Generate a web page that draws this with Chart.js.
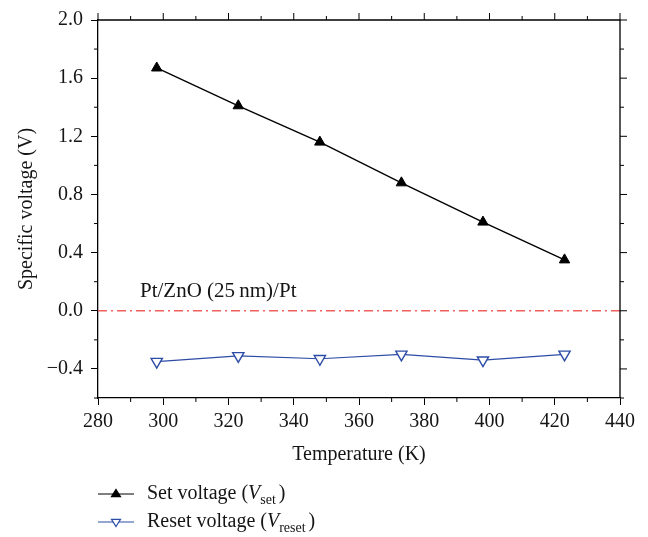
<!DOCTYPE html>
<html>
<head>
<meta charset="utf-8">
<script src="https://cdn.jsdelivr.net/npm/chart.js@4.4.1/dist/chart.umd.min.js"></script>
<style>
    html, body { margin: 0; padding: 0; background: #fff; }
    #wrap { width: 648px; height: 537px; }
</style>
</head>
<body>
<div id="wrap"><canvas id="chartVoltage" width="648" height="537"></canvas></div>
<script>
// data
const temperatures = [298, 323, 348, 373, 398, 423];
const setVoltage = [1.67, 1.41, 1.16, 0.88, 0.61, 0.35];
const resetVoltage = [-0.35, -0.31, -0.33, -0.30, -0.34, -0.30];
const xTicks = [280, 300, 320, 340, 360, 380, 400, 420, 440];
const yTicks = [-0.4, 0.0, 0.4, 0.8, 1.2, 1.6, 2.0];
const xMinor = [290, 310, 330, 350, 370, 390, 410, 430];
const yMinor = [-0.6, -0.2, 0.2, 0.6, 1.0, 1.4, 1.8];
const refLine = [280, 440];

const serif = "'Liberation Serif', 'Times New Roman', serif";
const blue = '#2d4ca6';
const txt = '#151515';

// minor ticks, ticks on top/right, y title, annotation, legend
const extras = {
    id: 'extras',
    afterDraw(chart) {
        const ctx = chart.ctx;
        const a = chart.chartArea;
        const xs = chart.scales.x, ys = chart.scales.y;
        ctx.save();
        ctx.strokeStyle = '#000';
        ctx.lineWidth = 1.3;
        ctx.beginPath();
        ctx.moveTo(a.left, a.top); ctx.lineTo(a.right, a.top); ctx.lineTo(a.right, a.bottom);
        ctx.stroke();
        ctx.lineWidth = 1;
        ctx.beginPath();
        for (const v of xTicks) {
            const px = xs.getPixelForValue(v);
            ctx.moveTo(px, a.top); ctx.lineTo(px, a.top - 7);
        }
        for (const v of xMinor) {
            const px = xs.getPixelForValue(v);
            ctx.moveTo(px, a.bottom); ctx.lineTo(px, a.bottom + 4);
            ctx.moveTo(px, a.top); ctx.lineTo(px, a.top - 4);
        }
        for (const v of yTicks) {
            const py = ys.getPixelForValue(v);
            ctx.moveTo(a.right, py); ctx.lineTo(a.right + 7, py);
        }
        for (const v of yMinor) {
            const py = ys.getPixelForValue(v);
            ctx.moveTo(a.left, py); ctx.lineTo(a.left - 4, py);
            ctx.moveTo(a.right, py); ctx.lineTo(a.right + 4, py);
        }
        ctx.stroke();

        ctx.fillStyle = txt;
        ctx.font = '20px ' + serif;
        ctx.textBaseline = 'middle';
        // y title
        ctx.save();
        ctx.translate(27, (a.top + a.bottom) / 2);
        ctx.rotate(-Math.PI / 2);
        ctx.textAlign = 'center';
        ctx.fillText('Specific voltage (V)', 0, 0);
        ctx.restore();
        // annotation
        ctx.textAlign = 'left';
        ctx.font = '21px ' + serif;
        ctx.fillText('Pt/ZnO (25\u2009nm)/Pt', 140, ys.getPixelForValue(0) - 19);

        // legend
        const items = [
            { sub: 'set', color: '#000', rot: 0, fill: '#000' },
            { sub: 'reset', color: blue, rot: 180, fill: '#fff' }
        ];
        const ly = [494, 522];
        items.forEach((it, i) => {
            const y = ly[i];
            ctx.strokeStyle = it.color;
            ctx.lineWidth = 1.2;
            ctx.beginPath();
            ctx.moveTo(98, y); ctx.lineTo(134, y);
            ctx.stroke();
            ctx.fillStyle = it.fill;
            ctx.beginPath();
            const r = 4.5;
            if (it.rot === 0) {
                ctx.moveTo(116, y - r); ctx.lineTo(116 + r, y + r * 0.6); ctx.lineTo(116 - r, y + r * 0.6);
            } else {
                ctx.moveTo(116, y + r); ctx.lineTo(116 + r, y - r * 0.6); ctx.lineTo(116 - r, y - r * 0.6);
            }
            ctx.closePath(); ctx.fill(); ctx.stroke();

            ctx.fillStyle = txt;
            let x = 147;
            ctx.font = '20px ' + serif;
            const t1 = (i === 0 ? 'Set' : 'Reset') + ' voltage (';
            ctx.fillText(t1, x, y); x += ctx.measureText(t1).width;
            ctx.font = 'italic 20px ' + serif;
            ctx.fillText('V', x, y); x += ctx.measureText('V').width;
            ctx.font = '14px ' + serif;
            ctx.fillText(it.sub, x, y + 6); x += ctx.measureText(it.sub).width + 3;
            ctx.font = '20px ' + serif;
            ctx.fillText(')', x, y);
        });
        ctx.restore();
    }
};

const config = {
    type: 'line',
    data: {
        datasets: [
            {
                label: 'Set voltage (Vset)',
                data: temperatures.map((t, i) => ({ x: t, y: setVoltage[i] })),
                borderColor: '#000',
                borderWidth: 1.4,
                pointStyle: 'triangle',
                pointRadius: 6,
                pointBackgroundColor: '#000',
                pointBorderColor: '#000',
                pointBorderWidth: 1,
                tension: 0
            },
            {
                label: 'Reset voltage (Vreset)',
                data: temperatures.map((t, i) => ({ x: t, y: resetVoltage[i] })),
                borderColor: blue,
                borderWidth: 1.2,
                pointStyle: 'triangle',
                pointRotation: 180,
                pointRadius: 6.5,
                pointBackgroundColor: '#fff',
                pointBorderColor: blue,
                pointBorderWidth: 1.4,
                tension: 0
            },
            {
                label: 'zero',
                data: refLine.map(t => ({ x: t, y: 0 })),
                borderColor: '#f0605c',
                borderWidth: 1.4,
                borderDash: [9, 4, 2, 4],
                pointRadius: 0
            }
        ]
    },
    options: {
        responsive: false,
        animation: false,
        layout: { padding: { top: 17, right: 28, bottom: 66, left: 0 } },
        plugins: {
            legend: { display: false },
            tooltip: { enabled: false }
        },
        scales: {
            x: {
                type: 'linear',
                min: 280,
                max: 440,
                afterBuildTicks: s => { s.ticks = xTicks.map(v => ({ value: v })); },
                afterFit: s => { s.height = 73; },
                ticks: { color: txt, font: { family: serif, size: 20 }, padding: 5, maxRotation: 0 },
                grid: { drawOnChartArea: false, drawTicks: true, tickLength: 7, color: '#000' },
                border: { color: '#000', width: 1.3 },
                title: {
                    display: true, text: 'Temperature (K)', color: txt,
                    font: { family: serif, size: 20 }, padding: { top: 4, bottom: 4 }
                }
            },
            y: {
                type: 'linear',
                min: -0.6,
                max: 2.0,
                afterBuildTicks: s => { s.ticks = yTicks.map(v => ({ value: v })); },
                afterFit: s => { s.width = 98; },
                ticks: {
                    color: txt, font: { family: serif, size: 20 }, padding: 8,
                    callback: v => (v < 0 ? '\u2212' + Math.abs(v).toFixed(1) : v.toFixed(1))
                },
                grid: { drawOnChartArea: false, drawTicks: true, tickLength: 7, color: '#000' },
                border: { color: '#000', width: 1.3 }
            }
        }
    },
    plugins: [extras]
};

const myChart = new Chart(document.getElementById('chartVoltage'), config);
</script>
</body>
</html>
